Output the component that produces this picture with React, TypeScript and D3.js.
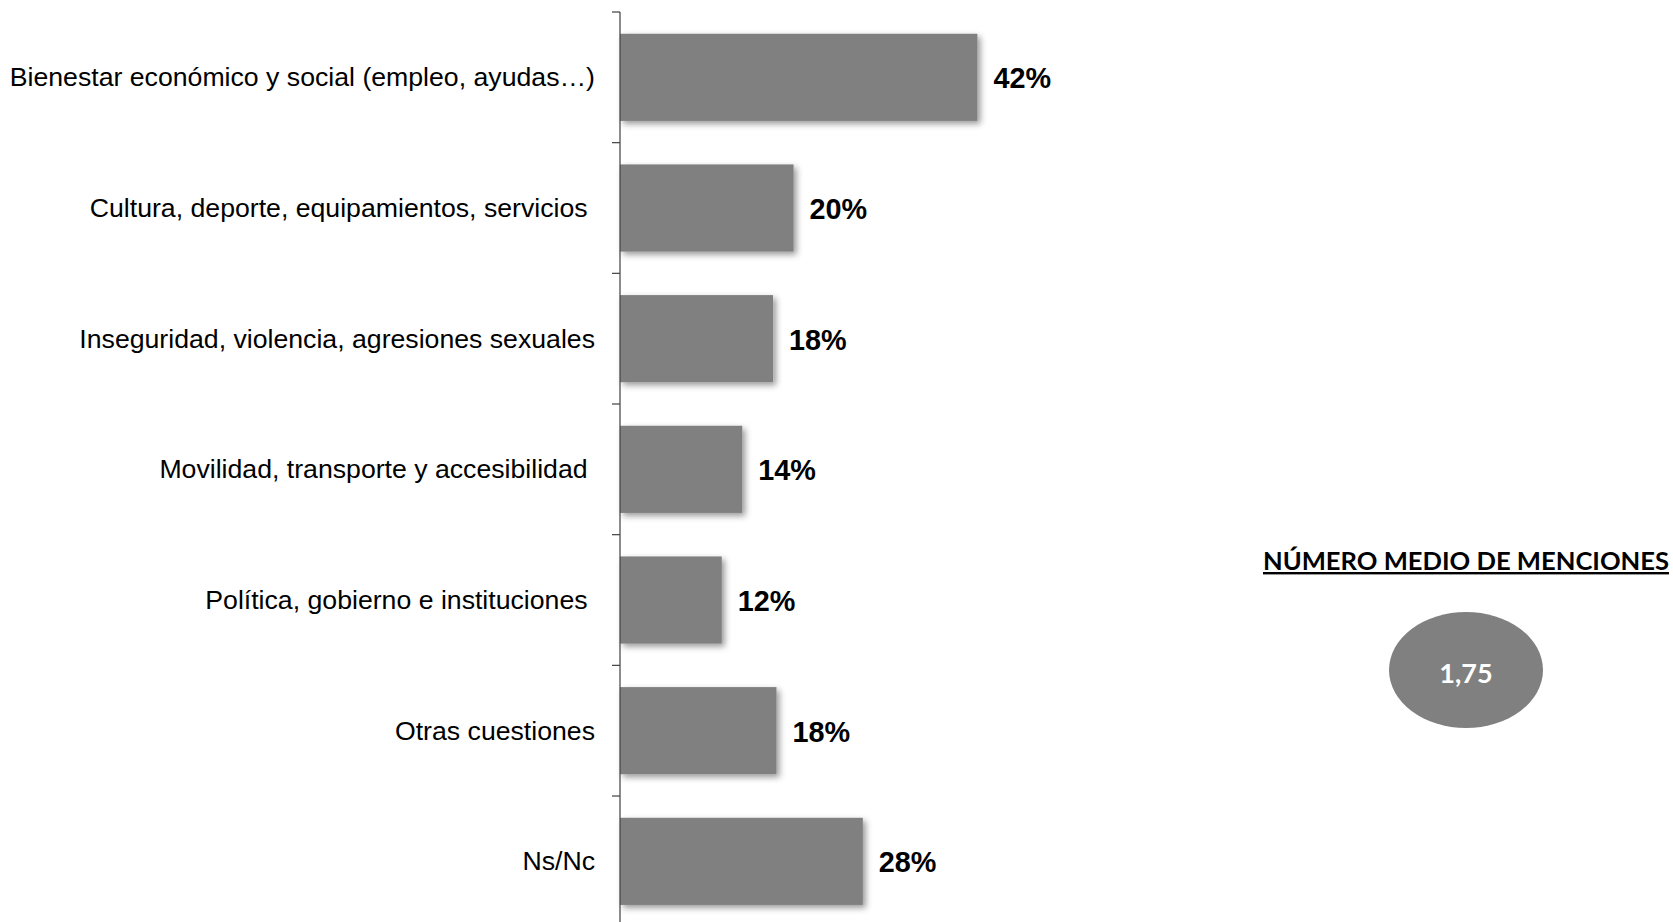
import React from "react";
import * as d3 from "d3";

const categories = [
  "Bienestar económico y social (empleo, ayudas…)",
  "Cultura, deporte, equipamientos, servicios ",
  "Inseguridad, violencia, agresiones sexuales",
  "Movilidad, transporte y accesibilidad ",
  "Política, gobierno e instituciones ",
  "Otras cuestiones",
  "Ns/Nc",
];
const values = [41.8, 20.3, 17.9, 14.3, 11.9, 18.3, 28.4];
const valueLabels = ["42%", "20%", "18%", "14%", "12%", "18%", "28%"];
const summaryTitle = "NÚMERO MEDIO DE MENCIONES";
const summaryValue = "1,75";

const W = 1673;
const H = 922;
const axisX = 620;
const top = 12;
const step = 130.67;

export default function App() {
  const y = d3
    .scaleBand<string>()
    .domain(categories)
    .range([top, top + step * categories.length])
    .paddingInner(0.333)
    .paddingOuter(0.1665);
  const x = d3.scaleLinear().domain([0, 100]).range([axisX, axisX + 855]);
  const st = y.step();
  const boundaries = categories.map((c) => (y(c) as number) - (st * 0.333) / 2);
  boundaries.push(top + st * categories.length);

  return (
    <svg
      width={W}
      height={H}
      style={{ position: "fixed", left: 0, top: 0, background: "#fff" }}
    >
      <defs>
        <filter id="sh" x="-10%" y="-20%" width="130%" height="150%">
          <feDropShadow dx="3" dy="3" stdDeviation="3" floodColor="#000" floodOpacity="0.4" />
        </filter>
      </defs>
      {categories.map((c, i) => (
        <g key={c}>
          <rect
            x={x(0)}
            y={y(c)}
            width={x(values[i]) - x(0)}
            height={y.bandwidth()}
            fill="#808080"
            filter="url(#sh)"
          />
          <text
            x={595}
            y={(y(c) as number) + y.bandwidth() / 2}
            textAnchor="end"
            dominantBaseline="central"
            fontFamily="'Liberation Sans', Arial, sans-serif"
            fontSize={26.67}
            fill="#000"
            style={{ whiteSpace: "pre" }}
          >
            {c}
          </text>
          <text
            x={x(values[i]) + 16}
            y={(y(c) as number) + y.bandwidth() / 2 + 1}
            dominantBaseline="central"
            fontFamily="'Liberation Sans', Arial, sans-serif"
            fontWeight="bold"
            fontSize={28.8}
            fill="#000"
          >
            {valueLabels[i]}
          </text>
        </g>
      ))}
      <line x1={axisX} x2={axisX} y1={top} y2={H} stroke="#404040" strokeWidth={1.2} />
      {boundaries.map((b, i) => (
        <line key={i} x1={axisX - 8} x2={axisX} y1={b} y2={b} stroke="#404040" strokeWidth={1.2} />
      ))}
      <text
        x={1466}
        y={570}
        textAnchor="middle"
        fontFamily="Lato, 'Noto Sans', sans-serif"
        fontWeight="bold"
        fontSize={24}
        textLength={406}
        lengthAdjust="spacingAndGlyphs"
        fill="#000"
        textDecoration="underline"
      >
        {summaryTitle}
      </text>
      <ellipse cx={1466} cy={670} rx={77} ry={58} fill="#808080" />
      <text
        x={1466}
        y={672}
        textAnchor="middle"
        dominantBaseline="central"
        fontFamily="Lato, 'Noto Sans', sans-serif"
        fontWeight="bold"
        fontSize={27}
        fill="#fff"
      >
        {summaryValue}
      </text>
    </svg>
  );
}
